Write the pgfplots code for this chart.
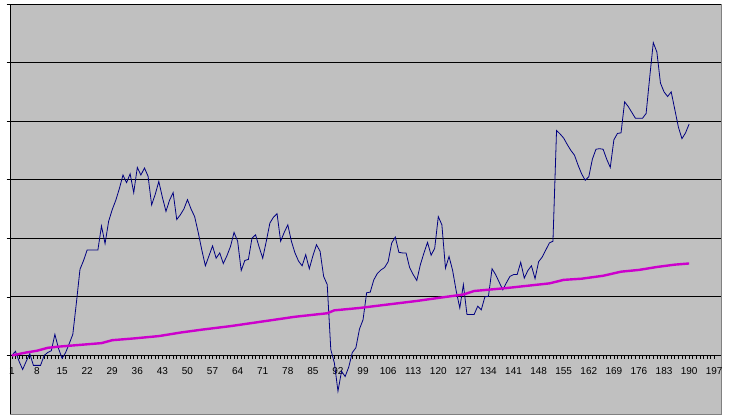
\documentclass[border=0pt]{standalone}
\usepackage{fontspec}
\setmainfont{Liberation Sans}
\usepackage{pgfplots}
\pgfplotsset{compat=1.18}
\definecolor{plotgray}{RGB}{192,192,192}
\definecolor{framegray}{RGB}{128,128,128}
\definecolor{navyline}{RGB}{0,0,128}
\definecolor{magline}{RGB}{204,0,204}
\begin{document}
\begin{tikzpicture}[x=1pt,y=1pt]
\useasboundingbox (0,0) rectangle (733,420);
\begin{axis}[
  at={(10pt,6pt)}, anchor=south west,
  scale only axis, width=711pt, height=410pt,
  xmin=0.47, xmax=198.9, ymin=-1, ymax=6,
  axis background/.style={fill=plotgray, draw=framegray, line width=0.8pt},
  axis x line=middle, axis y line=left,
  axis line style={-, black, line width=0.8pt},
  xtick={1,8,...,197}, minor x tick num=6,
  tick align=outside,
  major tick length=3.5pt, minor tick length=3.5pt,
  tick style={black, line width=0.7pt},
  xticklabel style={font=\fontsize{10}{12}\selectfont, text=black, yshift=-5pt},
  /pgf/number format/assume math mode=true,
  ytick={0,1,2,3,4,5,6}, yticklabels={},
  ymajorgrids, grid style={black, line width=0.8pt},
  clip=false,
]
\addplot[navyline, line width=0.8pt] coordinates {
(1,0.0) (2,0.07) (3,-0.1) (4,-0.24) (5,-0.1) (6,0.03) (7,-0.17) (8,-0.17) (9,-0.17) (10,0.0)
(11,0.05) (12,0.08) (13,0.36) (14,0.12) (15,-0.05) (16,0.05) (17,0.2) (18,0.36) (19,0.9) (20,1.47)
(21,1.62) (22,1.8) (23,1.8) (24,1.8) (25,1.8) (26,2.21) (27,1.91) (28,2.29) (29,2.49) (30,2.65)
(31,2.85) (32,3.08) (33,2.95) (34,3.1) (35,2.78) (36,3.21) (37,3.08) (38,3.2) (39,3.06) (40,2.57)
(41,2.75) (42,2.97) (43,2.7) (44,2.46) (45,2.65) (46,2.78) (47,2.32) (48,2.4) (49,2.5) (50,2.66)
(51,2.5) (52,2.37) (53,2.1) (54,1.8) (55,1.53) (56,1.7) (57,1.87) (58,1.66) (59,1.75) (60,1.57)
(61,1.7) (62,1.86) (63,2.1) (64,1.95) (65,1.45) (66,1.62) (67,1.64) (68,2.0) (69,2.06) (70,1.85)
(71,1.66) (72,1.95) (73,2.26) (74,2.36) (75,2.42) (76,1.95) (77,2.1) (78,2.23) (79,1.95) (80,1.75)
(81,1.61) (82,1.53) (83,1.72) (84,1.48) (85,1.7) (86,1.89) (87,1.78) (88,1.35) (89,1.21) (90,0.1)
(91,-0.13) (92,-0.61) (93,-0.27) (94,-0.36) (95,-0.2) (96,0.05) (97,0.13) (98,0.45) (99,0.61) (100,1.07)
(101,1.08) (102,1.29) (103,1.4) (104,1.46) (105,1.5) (106,1.6) (107,1.92) (108,2.02) (109,1.76) (110,1.75)
(111,1.75) (112,1.5) (113,1.38) (114,1.28) (115,1.55) (116,1.75) (117,1.93) (118,1.71) (119,1.83) (120,2.37)
(121,2.23) (122,1.49) (123,1.69) (124,1.45) (125,1.1) (126,0.81) (127,1.21) (128,0.7) (129,0.7) (130,0.7)
(131,0.84) (132,0.78) (133,1.0) (134,1.01) (135,1.48) (136,1.38) (137,1.25) (138,1.12) (139,1.24) (140,1.35)
(141,1.38) (142,1.38) (143,1.59) (144,1.32) (145,1.45) (146,1.53) (147,1.31) (148,1.6) (149,1.68) (150,1.8)
(151,1.92) (152,1.95) (153,3.84) (154,3.78) (155,3.71) (156,3.6) (157,3.5) (158,3.42) (159,3.25) (160,3.1)
(161,2.99) (162,3.05) (163,3.35) (164,3.52) (165,3.53) (166,3.52) (167,3.35) (168,3.21) (169,3.68) (170,3.79)
(171,3.8) (172,4.33) (173,4.25) (174,4.15) (175,4.05) (176,4.05) (177,4.05) (178,4.13) (179,4.75) (180,5.34)
(181,5.18) (182,4.65) (183,4.5) (184,4.42) (185,4.5) (186,4.2) (187,3.9) (188,3.7) (189,3.8) (190,3.95)
};
\addplot[magline, line width=2.4pt] coordinates {
(1,0) (5,0.05) (8,0.08) (11,0.13) (14,0.15) (20,0.18) (26,0.21) (29,0.26) (35,0.29) (42,0.33)
(48,0.39) (54,0.44) (62,0.5) (71,0.58) (80,0.66) (89,0.72) (91,0.77) (98,0.81) (106,0.87) (114,0.93)
(121,0.99) (127,1.04) (130,1.1) (139,1.15) (148,1.21) (151,1.23) (155,1.29) (160,1.31) (166,1.36)
(171,1.43) (176,1.46) (181,1.51) (186,1.55) (190,1.57)
};
\end{axis}
\end{tikzpicture}
\end{document}
